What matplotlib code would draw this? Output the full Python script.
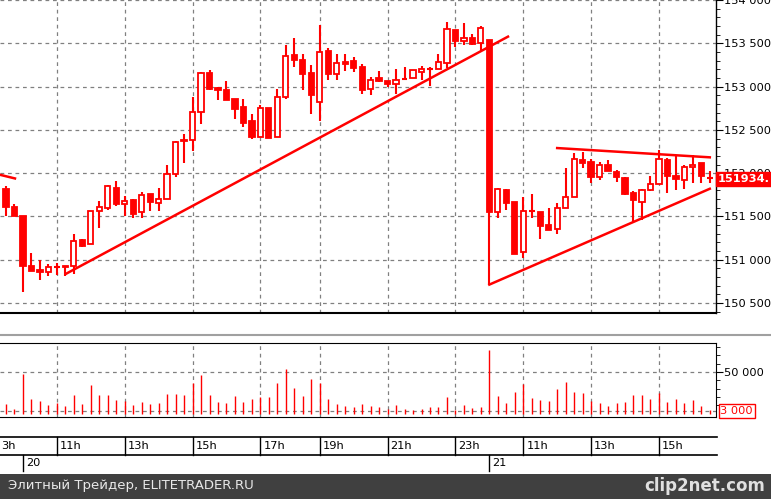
import matplotlib
matplotlib.use("Agg")
import matplotlib.pyplot as plt
from matplotlib.patches import Rectangle
import numpy as np

opens = [151813,151607,151504,150931,150885,150858,150916,150931,150923,151229,151179,151565,151603,151832,151649,151687,151546,151756,151660,151706,
         151992,152385,152382,152710,153152,152981,152958,152855,152759,152603,152412,152752,152412,152882,153370,153309,153152,152824,153412,153149,
         153279,153298,153221,152973,153095,153061,153034,153088,153103,153172,153202,153202,153271,153653,153527,153565,153500,153534,151546,151801,
         151664,151088,151568,151557,151397,151351,151603,151725,152152,152130,151958,152095,152019,151946,151775,151672,151805,151878,152156,151973,
         151923,152072,152118,151945]
highs = [151851,151641,151504,151076,150999,150954,150962,150931,151297,151244,151568,151675,151859,151904,151733,151698,151786,151756,151824,152091,
         152374,152450,152878,153164,153187,152992,153061,152862,152855,152679,152786,152752,152969,153477,153565,153374,153244,153706,153450,153382,
         153382,153347,153259,153114,153175,153061,153198,153229,153194,153233,153229,153374,153748,153653,153733,153603,153698,153534,151832,151820,
         151664,151725,151756,151557,151603,151656,152057,152233,152244,152164,152130,152152,152038,151954,151790,151817,151973,152271,152172,152210,
         152095,152214,152118,152030]
lows = [151504,151504,150626,150866,150763,150809,150824,150809,150839,151145,151179,151366,151572,151622,151511,151485,151485,151565,151565,151706,
        151954,152122,152259,152572,152962,152847,152847,152630,152538,152389,152412,152401,152412,152859,153225,152958,152687,152603,153072,153072,
        153175,153168,152912,152901,153049,153000,152916,153080,153103,153076,153011,153202,153214,153462,153481,153481,153412,150713,151485,151572,
        151068,151015,151485,151244,151343,151294,151603,151725,152057,151885,151916,152023,151897,151752,151439,151454,151790,151878,151771,151801,
        151813,151885,151885,151885]
closes = [151610,151504,150923,150866,150855,150916,150916,150912,151217,151164,151568,151614,151847,151645,151683,151530,151752,151668,151706,151992,
          152359,152366,152702,153152,152973,152962,152847,152744,152584,152412,152748,152401,152885,153355,153305,153145,152904,153401,153145,153267,
          153259,153214,152962,153080,153065,153030,153080,153088,153194,153206,153202,153286,153664,153527,153561,153489,153679,151546,151813,151656,
          151068,151565,151568,151393,151343,151603,151725,152164,152114,151954,152095,152023,151954,151759,151694,151805,151878,152164,151965,151931,
          152076,152099,151965,151934]
volumes = [11300,5300,48200,17400,15000,10500,13000,8900,22300,11300,34400,22300,22300,16200,15000,10100,13800,11700,13000,23500,
           23500,22300,36900,46600,22300,13800,12600,21100,13800,17400,19800,19800,36900,53900,30800,21100,41700,36900,17400,11300,
           8900,7700,11300,8900,7700,5700,10100,5300,4100,5300,7700,7700,19800,4100,10100,6900,7700,76500,21100,12600,
           25900,35200,18600,16200,15000,29600,38100,25900,24700,15000,12600,8900,12600,13800,22300,22300,17400,24700,13800,17400,
           12600,16200,8900,4100]
hour_idx = [6,14,22,30,37,45,53,61,69,77]
hour_labels = ['11h','13h','15h','17h','19h','21h','23h','11h','13h','15h']
day_idx = [2,57]
day_labels = ['20','21']
trend_lines = [((7.04,150836),(59.2,153577)), ((57,150713),(83,151820)),
               ((65,152290),(83,152183)), ((-0.7,151981),(1.06,151939))]
last_price = 151934

RED = '#ff0000'
W, H = 771, 499
fig = plt.figure(figsize=(7.71,4.99), dpi=100)
XL = (-0.708, 83.73)
FS = 8.2

def fx(px): return px/W
def fy(py): return 1-py/H

ax = fig.add_axes([0, fy(313), fx(716), fy(0)-fy(313)])
ax.set_xlim(*XL); ax.set_ylim(150385, 153978)
n = len(opens); x = np.arange(n)
for i in range(n):
    o,h,l,c = opens[i],highs[i],lows[i],closes[i]
    ax.vlines(i,l,h,color=RED,lw=1.5,zorder=3)
    if abs(o-c) < 15:
        ax.hlines((o+c)/2,i-0.33,i+0.33,color=RED,lw=1.5,zorder=4)
    elif c > o:
        ax.bar(i,c-o,bottom=o,width=0.62,facecolor='white',edgecolor=RED,lw=1.3,zorder=4)
    else:
        ax.bar(i,o-c,bottom=c,width=0.62,facecolor=RED,edgecolor=RED,lw=1.3,zorder=4)
for (a,b) in trend_lines:
    ax.plot([a[0],b[0]],[a[1],b[1]],color=RED,lw=1.8,zorder=5)
for v in range(150500,154001,500):
    ax.axhline(v,color='#808080',ls=(0,(3,3)),lw=0.9,zorder=1)
for i in hour_idx:
    ax.axvline(i,color='#808080',ls=(0,(3,3)),lw=0.9,zorder=1)
ax.yaxis.tick_right()
ax.set_yticks(range(150500,154001,500))
ax.set_yticklabels([f"{v:,}".replace(',',' ') for v in range(150500,154001,500)],fontsize=FS)
ax.set_yticks(range(150400,154000,100),minor=True)
ax.tick_params(axis='y',which='major',length=5,pad=1,direction='out')
ax.tick_params(axis='y',which='minor',length=3)
ax.set_xticks([])
for s in ['top','left']: ax.spines[s].set_visible(False)
ax.spines['bottom'].set_linewidth(1.5); ax.spines['right'].set_linewidth(1)
ax.text(1.003,last_price,f"{last_price}.",transform=ax.get_yaxis_transform(),
        ha='left',va='center',color='white',fontsize=FS,fontweight='bold',
        bbox=dict(boxstyle='square,pad=0.15',fc=RED,ec=RED),clip_on=False,zorder=10)

fig.add_artist(plt.Line2D([0,1],[fy(335),fy(335)],color='#a0a0a0',lw=1.5))

av = fig.add_axes([0, fy(417), fx(716), fy(343)-fy(417)])
av.set_xlim(*XL); av.set_ylim(-4200, 85000)
av.vlines(x,0,volumes,color=RED,lw=1)
for v in [3000,50000]:
    av.axhline(v,color='#808080',ls=(0,(3,3)),lw=0.9,zorder=0)
for i in hour_idx:
    av.axvline(i,color='#808080',ls=(0,(3,3)),lw=0.9,zorder=0)
av.yaxis.tick_right()
av.set_yticks([50000]); av.set_yticklabels(['50 000'],fontsize=FS)
av.set_yticks(range(10000,81000,10000),minor=True)
av.tick_params(axis='y',which='major',length=5,pad=1)
av.tick_params(axis='y',which='minor',length=3)
av.set_xticks([])
av.spines['left'].set_visible(False)
av.text(1.006,3000,'3 000',transform=av.get_yaxis_transform(),ha='left',va='center',
        color=RED,fontsize=FS,bbox=dict(boxstyle='square,pad=0.15',fc='white',ec=RED),clip_on=False)

def ix2fx(i): return fx(6+8.48*i)
fig.add_artist(plt.Line2D([0,fx(717)],[fy(437),fy(437)],color='black',lw=1.2))
fig.add_artist(plt.Line2D([0,fx(717)],[fy(455),fy(455)],color='black',lw=1.2))
fig.text(fx(1),fy(446),'3h',fontsize=FS,va='center',ha='left')
for i,l in zip(hour_idx,hour_labels):
    fig.add_artist(plt.Line2D([ix2fx(i)]*2,[fy(437),fy(455)],color='black',lw=1))
    fig.text(ix2fx(i)+fx(3),fy(446),l,fontsize=FS,va='center',ha='left')
for i,l in zip(day_idx,day_labels):
    fig.add_artist(plt.Line2D([ix2fx(i)]*2,[fy(455),fy(471)],color='black',lw=1))
    fig.text(ix2fx(i)+fx(3),fy(463),l,fontsize=FS,va='center',ha='left')

fig.add_artist(Rectangle((0,0),1,fy(474),transform=fig.transFigure,fc='#404040',ec='none'))
fig.text(fx(8),fy(486),'Элитный Трейдер, ELITETRADER.RU',color='#e8e8e8',fontsize=9.5,va='center')
fig.text(fx(765),fy(486),'clip2net.com',color='#e0e0e0',fontsize=12,fontweight='bold',va='center',ha='right')

fig.savefig('out.png',dpi=100)
